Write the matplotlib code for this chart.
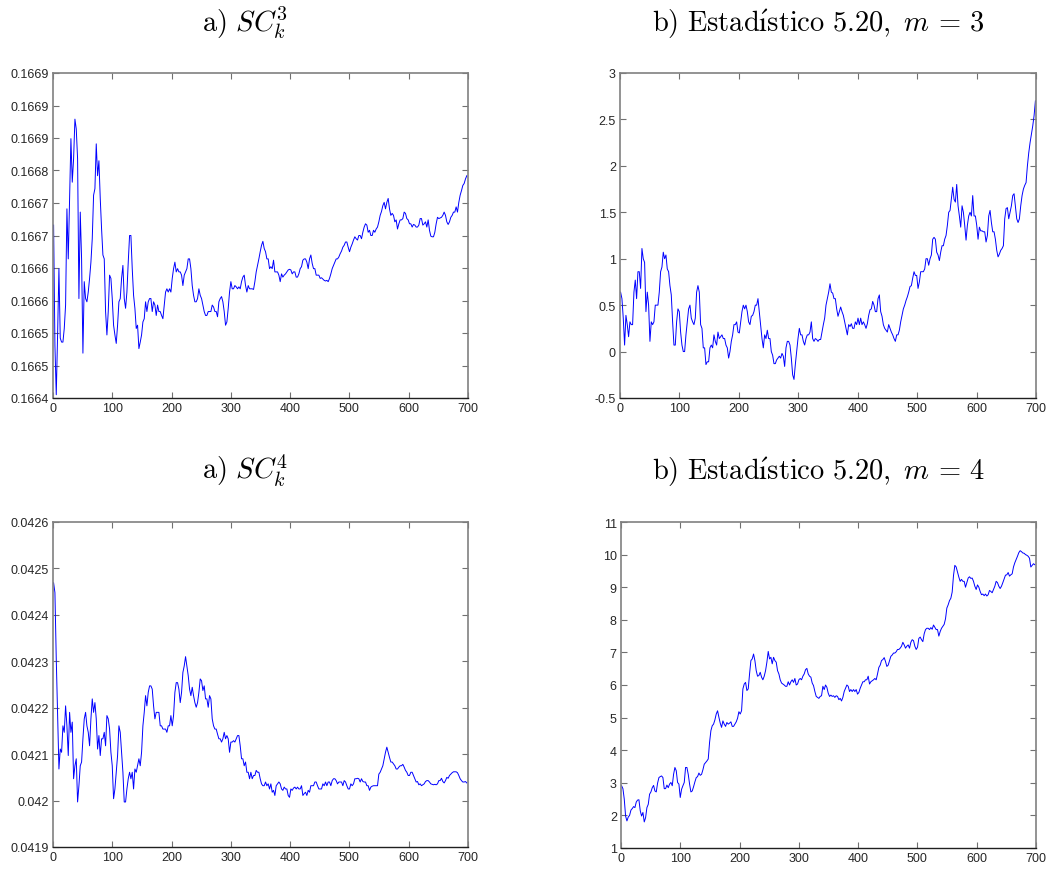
import numpy as np
import matplotlib
matplotlib.use("Agg")
import matplotlib.pyplot as plt
from matplotlib.ticker import FixedLocator, FixedFormatter

plt.rcParams["mathtext.fontset"] = "cm"
plt.rcParams["font.family"] = ["Liberation Sans", "DejaVu Sans"]

# ---------------------------------------------------------------- data
# SC_k^3 statistic, k = 1..700
sc3 = [
    0.166666, 0.166481, 0.166405, 0.166497, 0.166599, 0.166492, 0.166486, 0.166486, 0.166507, 0.166543,
    0.166691, 0.166614, 0.166707, 0.166799, 0.166732, 0.166768, 0.166829, 0.166814, 0.166768, 0.166553,
    0.166686, 0.166614, 0.166469, 0.166579, 0.166553, 0.166548, 0.166563, 0.166584, 0.166609, 0.166645,
    0.166712, 0.166722, 0.166791, 0.166742, 0.166765, 0.166707, 0.166660, 0.166620, 0.166614, 0.166533,
    0.166497, 0.166533, 0.166589, 0.166584, 0.166553, 0.166512, 0.166497, 0.166484, 0.166512, 0.166548,
    0.166553, 0.166584, 0.166604, 0.166553, 0.166538, 0.166563, 0.166609, 0.166650, 0.166650, 0.166599,
    0.166558, 0.166538, 0.166507, 0.166512, 0.166476, 0.166486, 0.166497, 0.166517, 0.166522, 0.166548,
    0.166533, 0.166548, 0.166553, 0.166553, 0.166533, 0.166548, 0.166543, 0.166527, 0.166543, 0.166533,
    0.166533, 0.166527, 0.166522, 0.166543, 0.166563, 0.166568, 0.166563, 0.166568, 0.166563, 0.166584,
    0.166599, 0.166609, 0.166594, 0.166599, 0.166594, 0.166594, 0.166589, 0.166573, 0.166589, 0.166594,
    0.166599, 0.166614, 0.166614, 0.166599, 0.166573, 0.166558, 0.166548, 0.166548, 0.166553, 0.166568,
    0.166558, 0.166553, 0.166543, 0.166533, 0.166527, 0.166527, 0.166533, 0.166533, 0.166533, 0.166543,
    0.166540, 0.166533, 0.166533, 0.166525, 0.166548, 0.166553, 0.166556, 0.166548, 0.166533, 0.166512,
    0.166517, 0.166538, 0.166563, 0.166579, 0.166568, 0.166568, 0.166573, 0.166571, 0.166568, 0.166571,
    0.166568, 0.166579, 0.166586, 0.166589, 0.166573, 0.166563, 0.166573, 0.166568, 0.166568, 0.166568,
    0.166567, 0.166579, 0.166594, 0.166604, 0.166614, 0.166625, 0.166635, 0.166641, 0.166630, 0.166625,
    0.166614, 0.166614, 0.166599, 0.166602, 0.166599, 0.166612, 0.166594, 0.166594, 0.166594, 0.166589,
    0.166579, 0.166591, 0.166586, 0.166589, 0.166591, 0.166594, 0.166597, 0.166598, 0.166597, 0.166591,
    0.166594, 0.166594, 0.166586, 0.166586, 0.166591, 0.166599, 0.166602, 0.166612, 0.166614, 0.166614,
    0.166609, 0.166599, 0.166614, 0.166620, 0.166607, 0.166599, 0.166599, 0.166589, 0.166589, 0.166589,
    0.166584, 0.166585, 0.166583, 0.166581, 0.166580, 0.166581, 0.166579, 0.166584, 0.166591, 0.166599,
    0.166604, 0.166609, 0.166614, 0.166614, 0.166617, 0.166622, 0.166626, 0.166632, 0.166635, 0.166640,
    0.166640, 0.166632, 0.166625, 0.166632, 0.166637, 0.166643, 0.166648, 0.166645, 0.166643, 0.166650,
    0.166650, 0.166645, 0.166655, 0.166663, 0.166668, 0.166666, 0.166655, 0.166658, 0.166650, 0.166650,
    0.166658, 0.166655, 0.166660, 0.166663, 0.166671, 0.166681, 0.166687, 0.166696, 0.166701, 0.166691,
    0.166701, 0.166707, 0.166691, 0.166681, 0.166684, 0.166681, 0.166671, 0.166674, 0.166660, 0.166668,
    0.166674, 0.166674, 0.166676, 0.166686, 0.166684, 0.166676, 0.166674, 0.166668, 0.166668, 0.166663,
    0.166667, 0.166666, 0.166663, 0.166663, 0.166666, 0.166676, 0.166676, 0.166666, 0.166668, 0.166671,
    0.166663, 0.166674, 0.166658, 0.166649, 0.166648, 0.166648, 0.166655, 0.166668, 0.166678, 0.166676,
    0.166677, 0.166678, 0.166681, 0.166686, 0.166681, 0.166671, 0.166667, 0.166671, 0.166678, 0.166681,
    0.166686, 0.166686, 0.166694, 0.166686, 0.166701, 0.166712, 0.166719, 0.166727, 0.166730, 0.166737,
    0.166742,
]

# Statistic 5.20 with m = 3
stat_m3 = [
    0.64, 0.57, 0.36, 0.07, 0.39, 0.29, 0.16, 0.32, 0.29, 0.29,
    0.64, 0.77, 0.57, 0.86, 0.86, 0.68, 1.11, 1.00, 0.96, 0.43,
    0.64, 0.50, 0.11, 0.32, 0.29, 0.32, 0.50, 0.50, 0.50, 0.64,
    0.86, 0.91, 1.07, 1.00, 1.04, 0.89, 0.86, 0.71, 0.61, 0.32,
    0.07, 0.07, 0.32, 0.46, 0.43, 0.21, 0.07, 0.00, 0.00, 0.18,
    0.32, 0.46, 0.50, 0.36, 0.32, 0.29, 0.36, 0.64, 0.71, 0.64,
    0.29, 0.25, 0.04, 0.04, -0.14, -0.11, -0.11, 0.04, 0.07, 0.04,
    0.18, 0.11, 0.07, 0.21, 0.14, 0.16, 0.18, 0.14, 0.14, 0.07,
    0.04, -0.07, 0.00, 0.11, 0.18, 0.29, 0.29, 0.32, 0.21, 0.20,
    0.32, 0.43, 0.50, 0.46, 0.50, 0.43, 0.32, 0.29, 0.38, 0.39,
    0.43, 0.50, 0.50, 0.57, 0.43, 0.29, 0.14, 0.04, 0.18, 0.14,
    0.23, 0.14, 0.14, 0.00, -0.04, -0.13, -0.13, -0.09, -0.07, -0.05,
    -0.07, -0.02, -0.05, -0.16, 0.04, 0.11, 0.11, 0.07, -0.07, -0.25,
    -0.30, -0.14, 0.00, 0.14, 0.25, 0.18, 0.18, 0.11, 0.07, 0.14,
    0.18, 0.18, 0.21, 0.32, 0.14, 0.11, 0.14, 0.13, 0.11, 0.13,
    0.13, 0.21, 0.29, 0.36, 0.50, 0.57, 0.64, 0.73, 0.64, 0.63,
    0.57, 0.57, 0.46, 0.38, 0.43, 0.48, 0.43, 0.39, 0.32, 0.25,
    0.18, 0.29, 0.27, 0.30, 0.25, 0.25, 0.32, 0.29, 0.36, 0.29,
    0.36, 0.29, 0.32, 0.29, 0.25, 0.30, 0.39, 0.45, 0.46, 0.54,
    0.50, 0.43, 0.43, 0.57, 0.61, 0.43, 0.38, 0.29, 0.25, 0.23,
    0.21, 0.29, 0.25, 0.21, 0.18, 0.14, 0.11, 0.18, 0.18, 0.23,
    0.32, 0.39, 0.46, 0.50, 0.55, 0.59, 0.64, 0.70, 0.71, 0.79,
    0.86, 0.82, 0.82, 0.68, 0.75, 0.86, 0.86, 0.86, 0.89, 1.00,
    1.00, 0.93, 1.00, 1.04, 1.21, 1.23, 1.21, 1.07, 1.04, 0.98,
    1.07, 1.14, 1.14, 1.21, 1.25, 1.36, 1.50, 1.52, 1.64, 1.77,
    1.64, 1.61, 1.80, 1.57, 1.46, 1.34, 1.57, 1.50, 1.36, 1.20,
    1.36, 1.46, 1.50, 1.46, 1.68, 1.46, 1.46, 1.36, 1.21, 1.34,
    1.30, 1.30, 1.29, 1.29, 1.18, 1.25, 1.46, 1.52, 1.39, 1.29,
    1.29, 1.21, 1.09, 1.02, 1.05, 1.09, 1.11, 1.14, 1.43, 1.54,
    1.55, 1.43, 1.50, 1.57, 1.68, 1.70, 1.57, 1.43, 1.39, 1.43,
    1.57, 1.68, 1.75, 1.79, 1.82, 2.00, 2.14, 2.25, 2.34, 2.43,
    2.54, 2.70,
]

# SC_k^4 statistic, k = 1..700
sc4 = [
    0.042469, 0.042448, 0.042305, 0.042183, 0.042068, 0.042111, 0.042104, 0.042161, 0.042147, 0.042204,
    0.042161, 0.042097, 0.042190, 0.042147, 0.042169, 0.042047, 0.042075, 0.042090, 0.041997, 0.042032,
    0.042075, 0.042083, 0.042133, 0.042176, 0.042190, 0.042161, 0.042147, 0.042118, 0.042176, 0.042219,
    0.042190, 0.042211, 0.042176, 0.042111, 0.042140, 0.042097, 0.042133, 0.042133, 0.042147, 0.042118,
    0.042183, 0.042176, 0.042154, 0.042104, 0.042075, 0.042004, 0.042025, 0.042061, 0.042097, 0.042161,
    0.042147, 0.042104, 0.042061, 0.041997, 0.041997, 0.042025, 0.042047, 0.042061, 0.042047, 0.042061,
    0.042025, 0.042068, 0.042061, 0.042075, 0.042090, 0.042075, 0.042104, 0.042161, 0.042190, 0.042226,
    0.042204, 0.042233, 0.042247, 0.042247, 0.042240, 0.042204, 0.042176, 0.042190, 0.042190, 0.042190,
    0.042161, 0.042161, 0.042154, 0.042154, 0.042154, 0.042147, 0.042161, 0.042161, 0.042183, 0.042161,
    0.042183, 0.042233, 0.042254, 0.042254, 0.042240, 0.042211, 0.042233, 0.042276, 0.042290, 0.042310,
    0.042290, 0.042269, 0.042240, 0.042226, 0.042244, 0.042226, 0.042211, 0.042201, 0.042211, 0.042233,
    0.042262, 0.042258, 0.042237, 0.042247, 0.042219, 0.042219, 0.042201, 0.042226, 0.042219, 0.042176,
    0.042161, 0.042154, 0.042154, 0.042143, 0.042133, 0.042133, 0.042126, 0.042133, 0.042147, 0.042133,
    0.042140, 0.042133, 0.042104, 0.042126, 0.042126, 0.042129, 0.042126, 0.042133, 0.042140, 0.042140,
    0.042118, 0.042090, 0.042090, 0.042075, 0.042083, 0.042061, 0.042061, 0.042047, 0.042061, 0.042047,
    0.042054, 0.042054, 0.042065, 0.042061, 0.042061, 0.042047, 0.042036, 0.042032, 0.042032, 0.042040,
    0.042032, 0.042036, 0.042025, 0.042036, 0.042018, 0.042022, 0.042011, 0.042032, 0.042036, 0.042040,
    0.042036, 0.042025, 0.042022, 0.042029, 0.042025, 0.042025, 0.042011, 0.042007, 0.042025, 0.042022,
    0.042027, 0.042029, 0.042025, 0.042029, 0.042025, 0.042025, 0.042032, 0.042011, 0.042015, 0.042018,
    0.042011, 0.042022, 0.042018, 0.042032, 0.042032, 0.042032, 0.042040, 0.042040, 0.042032, 0.042025,
    0.042025, 0.042025, 0.042036, 0.042032, 0.042040, 0.042032, 0.042040, 0.042040, 0.042032, 0.042043,
    0.042047, 0.042047, 0.042043, 0.042036, 0.042040, 0.042040, 0.042040, 0.042032, 0.042043, 0.042040,
    0.042032, 0.042025, 0.042025, 0.042036, 0.042032, 0.042036, 0.042047, 0.042047, 0.042048, 0.042047,
    0.042040, 0.042047, 0.042041, 0.042040, 0.042040, 0.042032, 0.042032, 0.042022, 0.042029, 0.042031,
    0.042032, 0.042032, 0.042032, 0.042032, 0.042057, 0.042061, 0.042068, 0.042075, 0.042090, 0.042104,
    0.042115, 0.042104, 0.042093, 0.042083, 0.042083, 0.042079, 0.042075, 0.042068, 0.042068, 0.042072,
    0.042075, 0.042075, 0.042078, 0.042072, 0.042065, 0.042061, 0.042054, 0.042054, 0.042061, 0.042061,
    0.042054, 0.042047, 0.042040, 0.042041, 0.042034, 0.042036, 0.042032, 0.042034, 0.042036, 0.042041,
    0.042043, 0.042043, 0.042040, 0.042036, 0.042035, 0.042034, 0.042035, 0.042034, 0.042036, 0.042043,
    0.042043, 0.042048, 0.042041, 0.042038, 0.042043, 0.042050, 0.042048, 0.042054, 0.042057, 0.042060,
    0.042062, 0.042062, 0.042062, 0.042060, 0.042054, 0.042047, 0.042043, 0.042040, 0.042040, 0.042041,
    0.042038,
]

# Statistic 5.20 with m = 4
stat_m4 = [
    2.91, 2.82, 2.50, 1.98, 1.83, 1.95, 2.00, 2.16, 2.21, 2.27,
    2.24, 2.41, 2.47, 2.48, 2.14, 1.98, 2.09, 1.80, 1.93, 2.24,
    2.34, 2.65, 2.72, 2.85, 2.92, 2.75, 2.72, 2.99, 3.16, 3.19,
    3.21, 3.16, 2.82, 2.82, 2.93, 2.85, 2.96, 3.01, 2.91, 3.26,
    3.47, 3.37, 3.01, 2.96, 2.55, 2.80, 2.91, 3.01, 3.47, 3.47,
    3.26, 2.96, 2.72, 2.75, 2.88, 3.03, 3.16, 3.19, 3.30, 3.23,
    3.26, 3.40, 3.57, 3.62, 3.67, 3.73, 4.24, 4.60, 4.75, 4.80,
    4.93, 5.11, 5.21, 5.01, 4.83, 4.70, 4.90, 4.80, 4.73, 4.85,
    4.80, 4.83, 4.87, 4.73, 4.73, 4.80, 4.87, 4.98, 5.18, 5.11,
    5.21, 5.88, 6.03, 6.08, 5.83, 5.88, 6.34, 6.75, 6.80, 6.95,
    6.75, 6.44, 6.27, 6.29, 6.39, 6.24, 6.16, 6.27, 6.44, 6.70,
    7.03, 6.80, 6.85, 6.65, 6.85, 6.75, 6.70, 6.44, 6.34, 6.16,
    6.06, 6.03, 6.00, 5.96, 5.96, 6.10, 6.00, 6.10, 6.16, 6.08,
    6.20, 6.00, 6.03, 6.16, 6.20, 6.16, 6.27, 6.34, 6.47, 6.51,
    6.34, 6.27, 6.24, 6.06, 5.98, 5.80, 5.65, 5.62, 5.59, 5.65,
    5.67, 5.96, 5.86, 6.00, 5.93, 5.75, 5.65, 5.69, 5.65, 5.67,
    5.62, 5.67, 5.65, 5.55, 5.59, 5.51, 5.62, 5.80, 5.90, 6.00,
    5.96, 5.80, 5.86, 5.80, 5.86, 5.80, 5.86, 5.72, 5.77, 5.90,
    6.00, 6.10, 6.10, 6.16, 6.16, 6.27, 6.03, 6.10, 6.13, 6.16,
    6.20, 6.16, 6.34, 6.54, 6.61, 6.75, 6.78, 6.84, 6.72, 6.57,
    6.61, 6.75, 6.88, 6.92, 6.98, 6.98, 7.02, 7.09, 7.09, 7.13,
    7.19, 7.31, 7.23, 7.13, 7.19, 7.23, 7.13, 7.31, 7.39, 7.36,
    7.19, 7.09, 7.16, 7.43, 7.47, 7.39, 7.33, 7.57, 7.70, 7.74,
    7.74, 7.70, 7.76, 7.71, 7.84, 7.77, 7.70, 7.70, 7.50, 7.64,
    7.74, 7.80, 7.86, 8.03, 8.36, 8.46, 8.59, 8.66, 8.85, 9.36,
    9.67, 9.62, 9.46, 9.31, 9.18, 9.24, 9.18, 9.18, 9.00, 9.14,
    9.28, 9.32, 9.27, 9.28, 9.18, 9.03, 8.93, 9.07, 9.00, 8.87,
    8.77, 8.79, 8.74, 8.79, 8.73, 8.77, 8.90, 8.87, 8.83, 8.93,
    9.03, 9.18, 9.14, 9.03, 8.96, 9.03, 9.14, 9.26, 9.37, 9.38,
    9.45, 9.34, 9.38, 9.41, 9.62, 9.75, 9.85, 9.95, 10.06, 10.12,
    10.09, 10.05, 10.04, 10.00, 9.98, 9.95, 9.89, 9.62, 9.67, 9.72,
    9.69,
]

# axis ticks and their printed labels
x_ticks = [0, 100, 200, 300, 400, 500, 600, 700]
x_labels = ["0", "100", "200", "300", "400", "500", "600", "700"]

sc3_ticks = [0.16640, 0.16645, 0.16650, 0.16655, 0.16660, 0.16665,
             0.16670, 0.16675, 0.16680, 0.16685, 0.16690]
sc3_labels = ["0.1664", "0.1665", "0.1665", "0.1666", "0.1666", "0.1667",
              "0.1667", "0.1668", "0.1669", "0.1669", "0.1669"]

m3_ticks = [-0.5, 0, 0.5, 1, 1.5, 2, 2.5, 3]
m3_labels = ["-0.5", "0", "0.5", "1", "1.5", "2", "2.5", "3"]

sc4_ticks = [0.0419, 0.0420, 0.0421, 0.0422, 0.0423, 0.0424, 0.0425, 0.0426]
sc4_labels = ["0.0419", "0.042", "0.0421", "0.0422", "0.0423", "0.0424", "0.0425", "0.0426"]

m4_ticks = [1, 2, 3, 4, 5, 6, 7, 8, 9, 10, 11]
m4_labels = ["1", "2", "3", "4", "5", "6", "7", "8", "9", "10", "11"]

titles = [
    r"$\mathrm{a)}\ SC_k^3$",
    r"$\mathrm{b)\ Estad\acute{ı}stico\ 5.20,}\ m\,=\,3$",
    r"$\mathrm{a)}\ SC_k^4$",
    r"$\mathrm{b)\ Estad\acute{ı}stico\ 5.20,}\ m\,=\,4$",
]

# ---------------------------------------------------------------- figure
W, H = 1048, 870
fig = plt.figure(figsize=(W / 100, H / 100), dpi=100)
fig.patch.set_facecolor("white")


def box(l, t, r, b):
    return [l / W, 1 - b / H, (r - l) / W, (b - t) / H]


panels = [
    (box(53, 74, 468, 399), sc3, (1, 698), sc3_ticks, sc3_labels, (0.16640, 0.16690)),
    (box(620, 74, 1036, 399), stat_m3, (1, 699), m3_ticks, m3_labels, (-0.5, 3)),
    (box(53, 523, 468, 848), sc4, (1, 698), sc4_ticks, sc4_labels, (0.0419, 0.0426)),
    (box(621, 523, 1036, 849), stat_m4, (1, 698), m4_ticks, m4_labels, (1, 11)),
]

for rect, series, (k0, k1), yt, yl, ylim in panels:
    ax = fig.add_axes(rect)
    k = np.linspace(k0, k1, len(series))
    ax.plot(k, series, color=(0, 0, 1), lw=0.7, antialiased=True)
    ax.set_xlim(0, 700)
    ax.set_ylim(*ylim)
    ax.xaxis.set_major_locator(FixedLocator(x_ticks))
    ax.xaxis.set_major_formatter(FixedFormatter(x_labels))
    ax.yaxis.set_major_locator(FixedLocator(yt))
    ax.yaxis.set_major_formatter(FixedFormatter(yl))
    ax.tick_params(direction="in", length=4, width=0.8, color="#707070",
                   labelsize=9, labelcolor="#262626", top=True, right=True,
                   pad=3)
    for side in ("left", "top", "right"):
        ax.spines[side].set_color("#808080")
        ax.spines[side].set_linewidth(1.2)
    ax.spines["bottom"].set_color("#202020")
    ax.spines["bottom"].set_linewidth(1.0)

title_pos = [(245, 32), (818, 32), (245, 480), (818, 480)]
for text, (tx, ty) in zip(titles, title_pos):
    fig.text(tx / W, 1 - ty / H, text, ha="center", va="baseline",
             fontsize=20.5, color="black")

fig.savefig("out.png", dpi=100, facecolor="white")
